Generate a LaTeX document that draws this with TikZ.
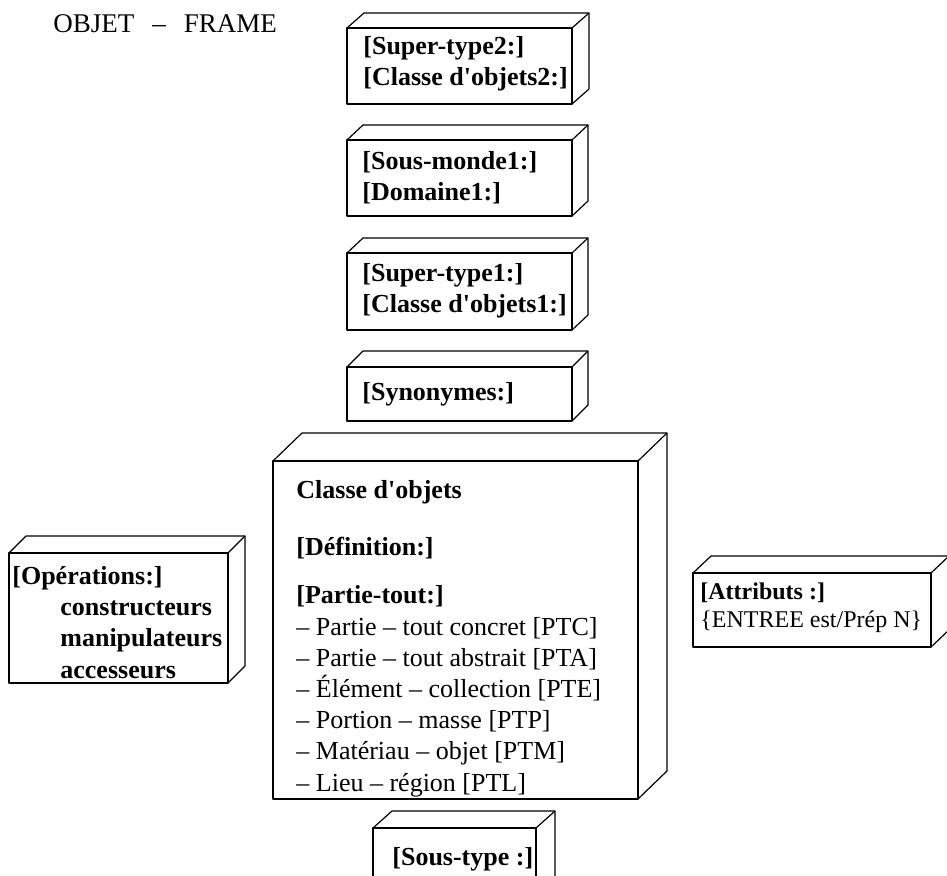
\documentclass[tikz,border=0pt]{standalone}
\usepackage{fontspec}
\setmainfont{Liberation Serif}[Ligatures=TeXOff]
\usetikzlibrary{positioning}
\tikzset{
  boite/.style={draw=black, line width=0.6pt, line join=round},
  txt/.style={inner sep=0pt, align=left, font=\fontsize{13}{15.6}\selectfont},
}
% pave: front face (x1,y1)-(x2,y2), depth (dx,dy)
\newcommand{\pave}[6]{%
  \draw[boite, fill=white] (#1,#2) rectangle (#3,#4);
  \draw[boite] (#1,#2) -- ++(#5,#6) -- ++({#3-#1},0) -- ++(0,{#4-#2}) -- (#3,#4);
  \draw[boite] (#3,#2) -- ++(#5,#6);
}

\begin{document}
\begin{tikzpicture}[x=0.5pt, y=-0.5pt]
    \useasboundingbox (0,0) rectangle (947,876);
    \clip (0,0) rectangle (947,876);

    % Title
    \node[txt, anchor=west, font=\fontsize{13.5}{16}\selectfont] (titre) at (53,24)
        {OBJET\hspace{9pt}–\hspace{9pt}FRAME};

    % Column of boxes
    \pave{347}{28}{572}{104}{17}{-15}
    \node[txt, anchor=west] (super2) at (363,64)
        {\textbf{[Super-type2:]}\\ \textbf{[Classe d'objets2:]}};

    \pave{347}{140}{572}{216}{16}{-15}
    \node[txt, anchor=west] (monde1) at (362,178)
        {\textbf{[Sous-monde1:]}\\ \textbf{[Domaine1:]}};

    \pave{347}{253}{572}{330}{16}{-15}
    \node[txt, anchor=west] (super1) at (362,291)
        {\textbf{[Super-type1:]}\\ \textbf{[Classe d'objets1:]}};

    \pave{347}{367}{572}{421}{16}{-16}
    \node[txt, anchor=west] (syno) at (362,394) {\textbf{[Synonymes:]}};

    % Main frame
    \pave{273}{461}{638}{799}{29}{-28}
    \node[txt, anchor=north west] (classe) at (296,480)
        {\textbf{Classe d'objets}\\[12.75pt]
         \textbf{[Définition:]}\\[8.75pt]
         \textbf{[Partie-tout:]}\\
         – Partie – tout concret [PTC]\\
         – Partie – tout abstrait [PTA]\\
         – Élément – collection [PTE]\\
         – Portion – masse [PTP]\\
         – Matériau – objet [PTM]\\
         – Lieu – région [PTL]};

    % Side boxes
    \pave{9}{553}{228}{683}{17}{-17}
    \node[txt, anchor=north west] (operations) at (12,566)
        {\textbf{[Opérations:]}\\
         \hspace*{24pt}\textbf{constructeurs}\\
         \hspace*{24pt}\textbf{manipulateurs}\\
         \hspace*{24pt}\textbf{accesseurs}};

    \pave{693}{573}{931}{647}{18}{-17}
    \node[txt, anchor=west, font=\fontsize{12}{14}\selectfont] (attributs) at (700,608)
        {\textbf{[Attributs :]}\\ \{ENTREE est/Prép N\}};

    % Sub-type
    \pave{373}{828}{536}{900}{19}{-17}
    \node[txt, anchor=west] (soustype) at (392,859) {\textbf{[Sous-type :]}};
\end{tikzpicture}
\end{document}
